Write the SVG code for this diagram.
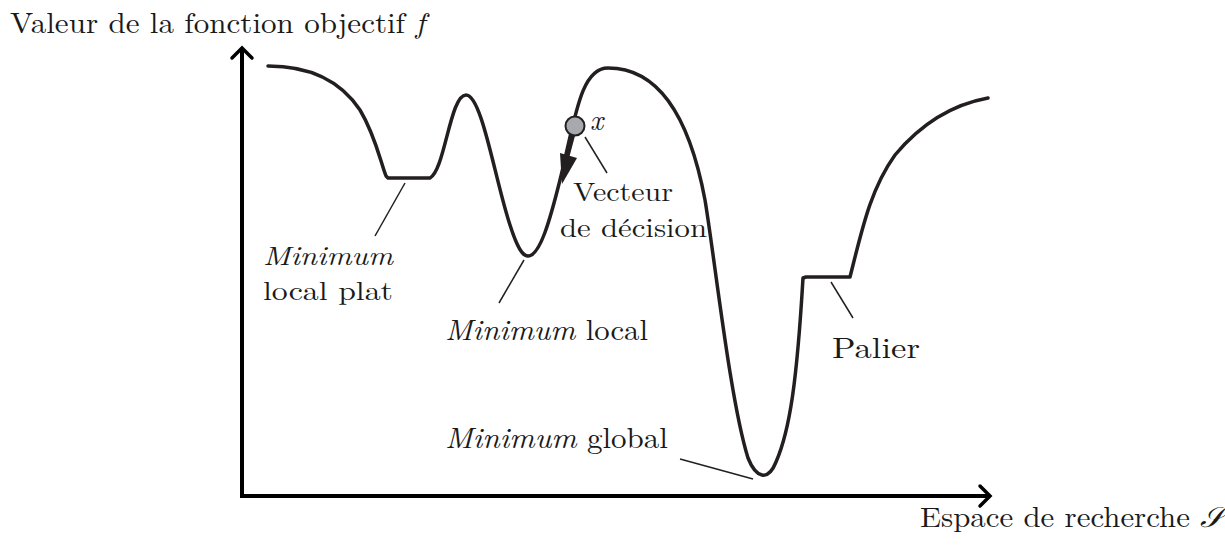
<svg xmlns="http://www.w3.org/2000/svg" width="1225" height="549" viewBox="0 0 1225 549">
<defs>
<style>
.t{font-family:"Latin Modern Roman","Liberation Serif","DejaVu Serif",serif;font-size:28.5px;fill:#1a1a1a}
.s{font-size:26.5px}
.i{font-style:italic}
.ax{stroke:#000;stroke-width:4;fill:none}
.hd{stroke:#000;stroke-width:3.5;fill:none;stroke-linecap:round;stroke-linejoin:miter}
.cv{stroke:#231f20;stroke-width:3.5;fill:none;stroke-linejoin:round;stroke-linecap:round}
.ld{stroke:#231f20;stroke-width:1.5;fill:none}
</style>
</defs>
<g id="axes">
<line class="ax" x1="242" y1="498" x2="242" y2="49"/>
<polyline class="hd" points="232,58 242,48 252,58"/>
<line class="ax" x1="240" y1="496" x2="989" y2="496"/>
<polyline class="hd" points="980,486 990,496 980,506"/>
<text class="t" x="10" y="33" textLength="415" lengthAdjust="spacingAndGlyphs">Valeur de la fonction objectif <tspan class="i">f</tspan></text>
<text class="t" x="920" y="527" textLength="304" lengthAdjust="spacingAndGlyphs">Espace de recherche <tspan class="i">𝒮</tspan></text>
</g>
<g id="curve">
<path class="cv" d="M268,66 C310,66 340,80 360,110 C375,135 380,160 386,176 L388,178 L430,178 C445,170 450,95 466,95 C482,95 495,180 510,225 C518,250 523,256 528,256 C540,256 550,220 560,180 C575,120 580,68 608,68 C660,68 690,120 705,200 C715,260 730,400 748,458 C756,478 768,482 776,462 C790,430 797,380 803,278 L806,277 L850,277 C862,230 870,190 895,155 C920,125 950,105 988,98"/>
</g>
<g id="decision-vector">
<path d="M575,126 L567,156" stroke="#231f20" stroke-width="5" fill="none"/>
<polygon points="560,153 577,158 562,184" fill="#231f20"/>
<circle cx="575" cy="126" r="9.5" fill="#a7a9ac" stroke="#231f20" stroke-width="2"/>
<text class="t i" x="590" y="130" font-size="33">x</text>
</g>
<g id="connectors">
<line class="ld" x1="585" y1="137" x2="607" y2="173"/>
<line class="ld" x1="405" y1="183" x2="375" y2="236"/>
<line class="ld" x1="524" y1="260" x2="499" y2="303"/>
<line class="ld" x1="680" y1="459" x2="753" y2="479"/>
<line class="ld" x1="831" y1="282" x2="853" y2="318"/>
</g>
<g id="label-decision">
<text class="t s"><tspan x="573" y="201" textLength="100" lengthAdjust="spacingAndGlyphs">Vecteur</tspan><tspan x="560" y="236.5" textLength="147" lengthAdjust="spacingAndGlyphs">de décision</tspan></text>
</g>
<g id="label-flat">
<text class="t s"><tspan class="i" x="263" y="265" textLength="130" lengthAdjust="spacingAndGlyphs">Minimum</tspan><tspan x="263" y="300" textLength="130" lengthAdjust="spacingAndGlyphs">local plat</tspan></text>
</g>
<g id="label-local">
<text class="t" x="445" y="340" textLength="203" lengthAdjust="spacingAndGlyphs"><tspan class="i">Minimum</tspan> local</text>
</g>
<g id="label-global">
<text class="t" x="445" y="448" textLength="223" lengthAdjust="spacingAndGlyphs"><tspan class="i">Minimum</tspan> global</text>
</g>
<g id="label-palier">
<text class="t" x="832" y="358" textLength="88" lengthAdjust="spacingAndGlyphs">Palier</text>
</g>
</svg>
